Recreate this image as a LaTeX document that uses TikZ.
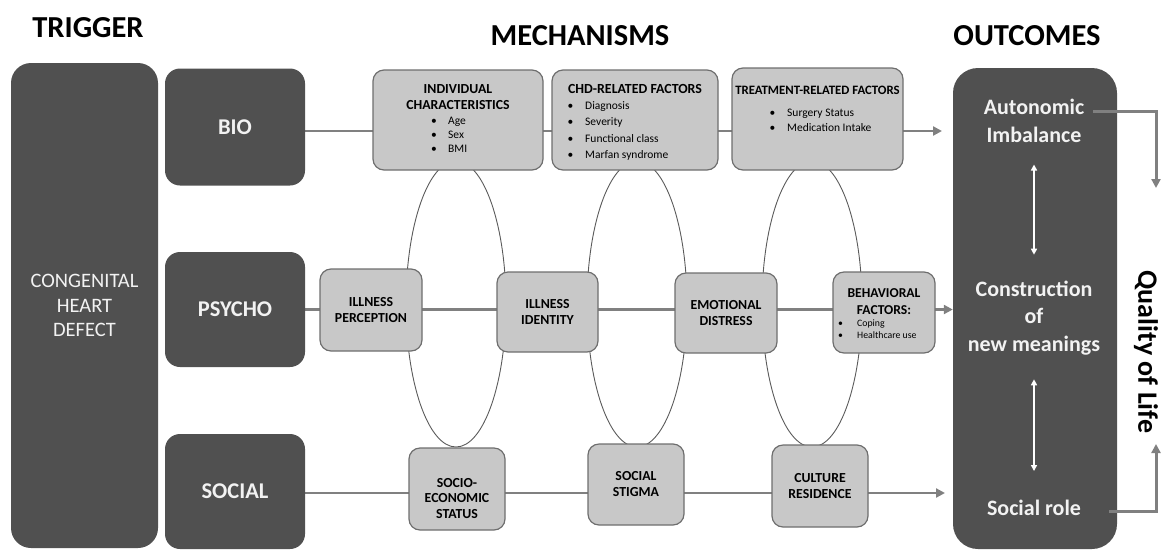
\documentclass[tikz,border=0pt]{standalone}
\usepackage{fontspec}
\setmainfont{Carlito}
\usetikzlibrary{arrows.meta}
\pgfdeclarelayer{back}
\pgfsetlayers{back,main}
\definecolor{darkbox}{HTML}{505050}
\definecolor{lightbox}{HTML}{C8C8C8}
\definecolor{boxrule}{HTML}{6E6E6E}
\definecolor{linkgray}{HTML}{808080}
\definecolor{loopgray}{HTML}{5A5A5A}
\definecolor{paletext}{HTML}{F2F2F2}
\newcommand\fs[2]{\fontsize{#1}{#2}\selectfont}
\newcommand\bul[1]{\makebox[#1][l]{\textbullet}}

\begin{document}
\begin{tikzpicture}[x=1pt,y=-1pt,
  darknode/.style={fill=darkbox, text=paletext, rounded corners=15pt, inner sep=0pt, align=center},
  lightnode/.style={fill=lightbox, draw=boxrule, line width=1.2pt, rounded corners=11pt, inner sep=0pt, align=center},
  boxtext/.style={inner sep=0pt, align=center, font=\fs{13.8}{16}\bfseries},
  listtext/.style={inner sep=0pt, align=left, anchor=west},
  heading/.style={inner sep=0pt, font=\fs{30.5}{34}\bfseries},
  domainbox/.style={darknode, minimum width=140pt, font=\fs{22.5}{26}\bfseries},
  outtext/.style={inner sep=0pt, align=center, text=paletext, font=\fs{22}{28}\bfseries},
  link/.style={draw=linkgray, line width=2.8pt},
  linkarrow/.style={link, -{Triangle[length=9pt,width=9pt]}},
  loop/.style={draw=loopgray, line width=0.9pt},
  twoway/.style={draw=white, line width=1.6pt, {Triangle[length=6pt,width=6pt]}-{Triangle[length=6pt,width=6pt]}},
]
\useasboundingbox (0,0) rectangle (1173,550);

% column headings
\node[heading] (htrig) at (88,28) {TRIGGER};
\node[heading] (hmech) at (580,36) {MECHANISMS};
\node[heading] (hout) at (1027,36) {OUTCOMES};

% trigger and the three domains
\node[darknode, rounded corners=20pt, minimum width=147pt, minimum height=485pt,
      font=\fs{20.5}{24.5}] (chdef) at (84.5,305.5) {CONGENITAL\\HEART\\DEFECT};
\node[domainbox, minimum height=117pt] (bio) at (235,127) {BIO};
\node[domainbox, minimum height=115pt] (psycho) at (235,309.5) {PSYCHO};
\node[domainbox, minimum height=115pt] (social) at (235,491.5) {SOCIAL};

% biological mechanisms
\node[lightnode, minimum width=170pt, minimum height=100pt] (indiv) at (458,120) {};
\node[boxtext] (indivtitle) at (458,97) {INDIVIDUAL\\CHARACTERISTICS};
\node[listtext, font=\fs{11.5}{14}] (indivlist) at (431,135) {\bul{17pt}Age\\\bul{17pt}Sex\\\bul{17pt}BMI};

\node[lightnode, minimum width=166pt, minimum height=100pt] (chd) at (635,120) {};
\node[boxtext, font=\fs{13.9}{16}\bfseries] (chdtitle) at (635,89) {CHD-RELATED FACTORS};
\node[listtext, font=\fs{11.5}{16.6}] (chdlist) at (567.5,131) {\bul{17.5pt}Diagnosis\\\bul{17.5pt}Severity\\\bul{17.5pt}Functional class\\\bul{17.5pt}Marfan syndrome};

\node[lightnode, minimum width=171pt, minimum height=102pt] (treat) at (817.5,119) {};
\node[boxtext, font=\fs{12.8}{15}\bfseries] (treattitle) at (817.5,90) {TREATMENT-RELATED FACTORS};
\node[listtext, font=\fs{11.5}{15}] (treatlist) at (769.5,120.5) {\bul{17.5pt}Surgery Status\\\bul{17.5pt}Medication Intake};

% psychological mechanisms
\node[lightnode, minimum width=102pt, minimum height=82pt, font=\fs{13.8}{16}\bfseries] (perc) at (371,310) {ILLNESS\\PERCEPTION};
\node[lightnode, minimum width=101pt, minimum height=80pt, font=\fs{13.8}{16}\bfseries] (ident) at (547.5,312) {ILLNESS\\IDENTITY};
\node[lightnode, minimum width=102pt, minimum height=80pt, font=\fs{13.8}{16}\bfseries] (emot) at (726,313) {EMOTIONAL\\DISTRESS};
\node[lightnode, minimum width=102pt, minimum height=81pt] (behav) at (884,312.5) {};
\node[boxtext, font=\fs{13.6}{17}\bfseries] (behavtitle) at (884,301.5) {BEHAVIORAL\\FACTORS:};
\node[listtext, font=\fs{9.8}{12}] (behavlist) at (838,329) {\bul{19pt}Coping\\\bul{19pt}Healthcare use};

% social mechanisms
\node[lightnode, minimum width=96pt, minimum height=82pt] (socio) at (457,489) {};
\node[boxtext, font=\fs{13.8}{15.5}\bfseries] (sociotext) at (457,498.5) {SOCIO-\\ECONOMIC\\STATUS};
\node[lightnode, minimum width=96pt, minimum height=81pt, font=\fs{13.8}{16}\bfseries] (stigma) at (636,484.5) {SOCIAL\\STIGMA};
\node[lightnode, minimum width=96pt, minimum height=82pt, font=\fs{13.8}{15.5}\bfseries] (culture) at (820,486) {CULTURE\\RESIDENCE};

% outcomes
\node[darknode, rounded corners=25pt, minimum width=164pt, minimum height=481pt] (outc) at (1035,308.5) {};
\node[outtext] (auto) at (1034,120.5) {Autonomic\\Imbalance};
\node[outtext, font=\fs{22}{27.5}\bfseries] (constr) at (1034,318) {Construction\\of\\new meanings};
\node[outtext] (role) at (1034,508) {Social role};
\draw[twoway, shorten <=22pt, shorten >=26pt] (auto.south) -- (constr.north);
\draw[twoway, shorten <=24pt, shorten >=29pt] (constr.south) -- (role.north);

\node[rotate=-90, inner sep=0pt, font=\fs{28}{32}\bfseries] (qol) at (1146,352) {Quality of Life};
\coordinate (qdown) at (1156,188);
\coordinate (qup) at (1156,444);
\draw[linkarrow, line width=3pt] ([xshift=9pt,yshift=9.5pt]auto.east) -| (qdown);
\draw[linkarrow, line width=3pt] ([xshift=28pt,yshift=-3pt]role.east) -| (qup);

% row connectors and interaction loops, behind the boxes
\coordinate (bioend) at (942,131);
\coordinate (socend) at (945,493);
\begin{pgfonlayer}{back}
  \draw[loop] (456,304) ellipse [x radius=50, y radius=143];
  \draw[loop] (637,304) ellipse [x radius=50, y radius=143];
  \draw[loop] (812,304) ellipse [x radius=50, y radius=143];
  \draw[linkarrow] ([yshift=-4pt]bio.east) -- (bioend);
  \draw[linkarrow] (psycho.east) -- (psycho.east -| outc.west);
  \draw[linkarrow] ([yshift=-1.5pt]social.east) -- (socend);
\end{pgfonlayer}
\end{tikzpicture}
\end{document}
